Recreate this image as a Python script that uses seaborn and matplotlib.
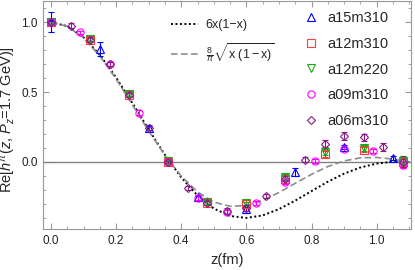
import numpy as np
import pandas as pd
import matplotlib
matplotlib.use("Agg")
import matplotlib.pyplot as plt
import seaborn as sns
from matplotlib.lines import Line2D
from matplotlib.ticker import MultipleLocator

# model curves, values
z_curve = [0.00, 0.05, 0.10, 0.15, 0.20, 0.25, 0.30, 0.35, 0.40, 0.45, 0.50, 0.55,
           0.60, 0.65, 0.70, 0.75, 0.80, 0.85, 0.90, 0.95, 1.00, 1.05, 1.10]
asym_curve = [1.000, 0.972, 0.892, 0.766, 0.604, 0.421, 0.232, 0.050, -0.111, -0.241,
              -0.334, -0.387, -0.401, -0.383, -0.338, -0.277, -0.209, -0.142, -0.084,
              -0.040, -0.012, 0.001, -0.001]
sqrt_curve = [1.000, 0.971, 0.888, 0.758, 0.593, 0.408, 0.221, 0.047, -0.102, -0.215,
              -0.287, -0.318, -0.312, -0.276, -0.219, -0.153, -0.089, -0.033, 0.007,
              0.029, 0.032, 0.020, -0.003]

# lattice data
z_a15m310 = [0.00, 0.15, 0.30, 0.45, 0.60, 0.75, 0.90, 1.05]
h_a15m310 = [1.000, 0.810, 0.245, -0.254, -0.338, -0.071, 0.107, 0.029]
e_a15m310 = [0.070, 0.050, 0.020, 0.020, 0.030, 0.030, 0.015, 0.015]

z_a12m310 = [0.00, 0.12, 0.24, 0.36, 0.48, 0.60, 0.72, 0.84, 0.96, 1.08]
h_a12m310 = [1.000, 0.874, 0.481, 0.000, -0.297, -0.304, -0.119, 0.055, 0.088, 0.000]
e_a12m310 = [0.010, 0.015, 0.015, 0.010, 0.015, 0.020, 0.020, 0.020, 0.020, 0.020]

z_a12m220 = [0.00, 0.12, 0.24, 0.36, 0.48, 0.60, 0.72, 0.84, 0.96, 1.08]
h_a12m220 = [1.000, 0.878, 0.485, 0.004, -0.290, -0.295, -0.110, 0.070, 0.100, 0.004]
e_a12m220 = [0.010, 0.015, 0.015, 0.010, 0.015, 0.020, 0.020, 0.020, 0.020, 0.020]

z_a09m310 = [0.00, 0.09, 0.18, 0.27, 0.36, 0.45, 0.54, 0.63, 0.72, 0.81, 0.90, 0.99, 1.08]
h_a09m310 = [1.000, 0.929, 0.703, 0.353, 0.000, -0.260, -0.357, -0.297, -0.143, 0.007,
             0.095, 0.076, -0.024]
e_a09m310 = [0.010, 0.010, 0.015, 0.015, 0.010, 0.015, 0.015, 0.015, 0.015, 0.015,
             0.015, 0.015, 0.020]

z_a06m310 = [0.00, 0.06, 0.12, 0.18, 0.24, 0.30, 0.36, 0.42, 0.48, 0.54, 0.60, 0.66,
             0.72, 0.78, 0.84, 0.90, 0.96, 1.02, 1.08]
h_a06m310 = [1.000, 0.976, 0.876, 0.703, 0.481, 0.243, 0.000, -0.186, -0.297, -0.350,
             -0.333, -0.245, -0.119, 0.017, 0.131, 0.186, 0.178, 0.107, 0.000]
e_a06m310 = [0.010, 0.020, 0.015, 0.015, 0.015, 0.015, 0.010, 0.015, 0.015, 0.020,
             0.020, 0.015, 0.015, 0.015, 0.025, 0.030, 0.025, 0.030, 0.040]

ensembles = [
    ("a15m310", z_a15m310, h_a15m310, e_a15m310, "#0000ff", "^"),
    ("a12m310", z_a12m310, h_a12m310, e_a12m310, "#ff3b3b", "s"),
    ("a12m220", z_a12m220, h_a12m220, e_a12m220, "#1aa81a", "v"),
    ("a09m310", z_a09m310, h_a09m310, e_a09m310, "#ff00ff", "o"),
    ("a06m310", z_a06m310, h_a06m310, e_a06m310, "#8b1a8b", "D"),
]

sns.set_theme(style="ticks")
plt.rcParams['font.family'] = ['Liberation Sans', 'DejaVu Sans']
plt.rcParams['mathtext.fontset'] = 'custom'
plt.rcParams['mathtext.rm'] = 'Liberation Sans'
plt.rcParams['mathtext.it'] = 'Liberation Sans:italic'

fig = plt.figure(figsize=(4.15, 2.7), dpi=100)
ax = fig.add_axes([0.104, 0.152, 0.886, 0.846])

ax.axhline(0, color="#808080", lw=1.0, zorder=1)

curves = pd.DataFrame({"z": z_curve, "asym": asym_curve, "sqrt": sqrt_curve})
sns.lineplot(data=curves, x="z", y="asym", ax=ax, color="black", lw=1.4,
             linestyle=(0, (1, 1.3)), zorder=2)
sns.lineplot(data=curves, x="z", y="sqrt", ax=ax, color="#8c8c8c", lw=1.2,
             linestyle=(0, (4, 2)), zorder=2)

for name, z, h, e, col, mk in ensembles:
    ms = 4.2 if mk == "D" else 5.2
    ax.errorbar(z, h, yerr=e, fmt=mk, ms=ms, mfc="none", mec=col, mew=0.8,
                ecolor=col, elinewidth=0.8, capsize=2, capthick=0.8, zorder=3)

ax.set_xlim(-0.024, 1.105)
ax.set_ylim(-0.48, 1.155)
ax.xaxis.set_major_locator(MultipleLocator(0.2))
ax.xaxis.set_minor_locator(MultipleLocator(0.05))
ax.yaxis.set_major_locator(MultipleLocator(0.5))
ax.yaxis.set_minor_locator(MultipleLocator(0.1))
ax.tick_params(which="both", direction="in", top=True, right=True, color="#999999",
               labelsize=8.5, labelcolor="#222222", pad=4)
ax.tick_params(which="major", length=4, width=0.8)
ax.tick_params(which="minor", length=2, width=0.6)
for sp in ax.spines.values():
    sp.set_color("#999999")
    sp.set_linewidth(0.8)

ax.set_xlabel("z(fm)", fontsize=10.5, labelpad=5)
ax.set_ylabel(r"Re[$h^{\pi}$($z$, $P_z$=1.7 GeV)]", fontsize=10.5, labelpad=3)
ax.yaxis.set_label_coords(-0.068, 0.48)

line_handles = [
    Line2D([], [], color="black", lw=1.4, linestyle=(0, (1, 1.3))),
    Line2D([], [], color="#8c8c8c", lw=1.2, linestyle=(0, (4, 2))),
]
line_labels = ["6x(1\u2212x)", r"$\frac{8}{\pi}\sqrt{\mathrm{x}\ (1-\mathrm{x})}$"]
leg1 = ax.legend(line_handles, line_labels, loc="upper left", bbox_to_anchor=(0.33, 0.945),
                 frameon=False, fontsize=9, handlelength=2.2, handletextpad=0.6,
                 labelspacing=0.75, borderpad=0)
ax.add_artist(leg1)

pt_handles = [Line2D([], [], marker=mk, color=col, mec=col, mfc="none", mew=0.8, ls="none",
                     ms=4.2 if mk == "D" else 5.2) for _, _, _, _, col, mk in ensembles]
ax.legend(pt_handles, [e[0] for e in ensembles], loc="upper left",
          bbox_to_anchor=(0.69, 0.985), frameon=False, fontsize=10.5, handlelength=1.0,
          handletextpad=0.6, labelspacing=0.8, borderpad=0)

fig.savefig("out.png", dpi=100)
